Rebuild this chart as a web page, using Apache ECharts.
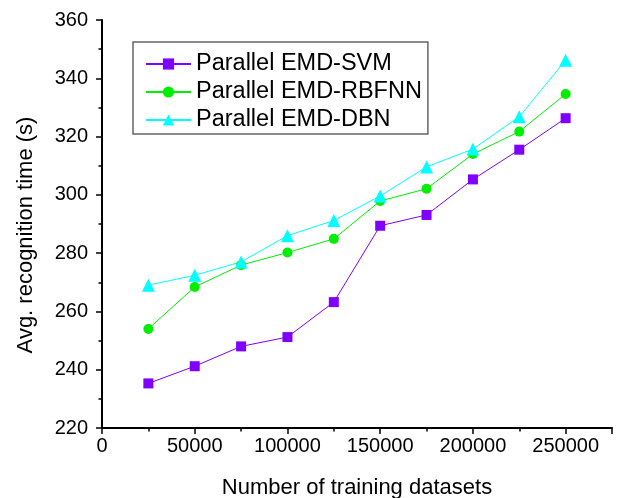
<!DOCTYPE html>
<html>
<head>
<meta charset="utf-8">
<script src="https://cdn.jsdelivr.net/npm/echarts@6/dist/echarts.min.js"></script>
<style>
html,body{margin:0;padding:0;background:#fff;}
#chart{width:619px;height:498px;}
</style>
</head>
<body>
<div id="chart"></div>
<script>
const xValues = [25000, 50000, 75000, 100000, 125000, 150000, 175000, 200000, 225000, 250000];
const svm   = [235.3, 241.2, 248.0, 251.2, 263.2, 289.4, 293.1, 305.3, 315.5, 326.3];
const rbfnn = [254.0, 268.4, 275.9, 280.2, 284.9, 297.9, 302.1, 314.0, 321.7, 334.6];
const dbn   = [269.0, 272.4, 277.0, 286.0, 291.2, 299.6, 309.6, 315.7, 326.8, 346.2];
const seriesNames = ['Parallel EMD-SVM', 'Parallel EMD-RBFNN', 'Parallel EMD-DBN'];
const xTitle = 'Number of training datasets';
const yTitle = 'Avg. recognition time (s)';

const font = 'Liberation Sans, Arial, sans-serif';
const chart = echarts.init(document.getElementById('chart'), null, {renderer: 'canvas'});
const pair = arr => xValues.map((x, i) => [x, arr[i]]);

function axisCommon() {
  return {
    axisLine: {show: true, onZero: false, lineStyle: {color: '#000', width: 2}},
    axisTick: {show: true, inside: false, length: 6, lineStyle: {color: '#000', width: 1.5}},
    minorTick: {show: true, splitNumber: 2, length: 3.5, lineStyle: {color: '#000', width: 1.5}},
    splitLine: {show: false}
  };
}

chart.setOption({
  animation: false,
  backgroundColor: '#fff',
  grid: {left: 102, top: 20, right: 7, bottom: 70, containLabel: false, outerBoundsMode: 'none'},
  legend: {
    orient: 'vertical',
    left: 133, top: 42,
    padding: [10, 6, 2, 12],
    itemGap: 4,
    itemWidth: 45, itemHeight: 14,
    borderColor: '#666', borderWidth: 1.5,
    textStyle: {color: '#000', fontFamily: font, fontSize: 23.5},
    data: seriesNames
  },
  xAxis: Object.assign(axisCommon(), {
    type: 'value', min: 0, max: 275000, interval: 50000,
    name: xTitle, nameLocation: 'middle', nameGap: 49,
    nameTextStyle: {color: '#000', fontFamily: font, fontSize: 22},
    axisLabel: {color: '#000', fontFamily: font, fontSize: 20, margin: 8,
      formatter: v => (v % 50000 === 0 && v <= 250000) ? String(v) : ''}
  }),
  yAxis: Object.assign(axisCommon(), {
    type: 'value', min: 220, max: 360, interval: 20,
    name: yTitle, nameLocation: 'middle', nameGap: 65,
    nameTextStyle: {color: '#000', fontFamily: font, fontSize: 22, padding: [0, 22, 0, 0]},
    axisLabel: {color: '#000', fontFamily: font, fontSize: 20, margin: 14}
  }),
  series: [
    {name: seriesNames[0], type: 'line', data: pair(svm), symbol: 'rect', symbolSize: 10,
     color: '#8000ff', lineStyle: {width: 1, color: '#8000ff'}, itemStyle: {color: '#8000ff'}},
    {name: seriesNames[1], type: 'line', data: pair(rbfnn), symbol: 'circle', symbolSize: 10,
     color: '#00ee00', lineStyle: {width: 1, color: '#00ee00'}, itemStyle: {color: '#00ee00'}},
    {name: seriesNames[2], type: 'line', data: pair(dbn), symbol: 'triangle', symbolSize: 13,
     color: '#00ffff', lineStyle: {width: 1, color: '#00ffff'}, itemStyle: {color: '#00ffff'}}
  ]
});
</script>
</body>
</html>
